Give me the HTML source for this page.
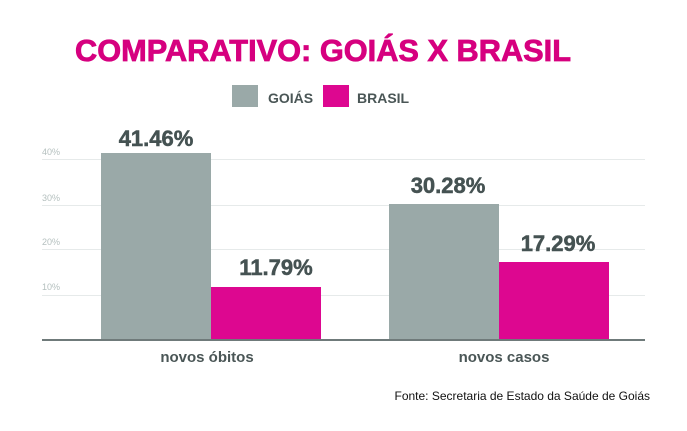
<!DOCTYPE html>
<html><head><meta charset="utf-8"><style>
body{margin:0;width:687px;height:426px;background:#fff;overflow:hidden;font-family:"Liberation Sans",sans-serif}
</style></head><body>
<svg width="687" height="426" xmlns="http://www.w3.org/2000/svg" font-family="Liberation Sans, sans-serif">
<text x="323" y="61" text-anchor="middle" font-size="31" font-weight="bold" fill="#d6007f" stroke="#d6007f" stroke-width="0.8" textLength="496" lengthAdjust="spacingAndGlyphs">COMPARATIVO: GOIÁS X BRASIL</text>
<rect x="232" y="85" width="26" height="22" fill="#9aa9a8"/>
<text x="268" y="103" font-size="14" font-weight="bold" fill="#4a5656">GOIÁS</text>
<rect x="323" y="85" width="26" height="22" fill="#dd0790"/>
<text x="357" y="103" font-size="14" font-weight="bold" fill="#4a5656">BRASIL</text>
<g stroke="#e6eaea" stroke-width="1">
<line x1="42" y1="159.5" x2="645" y2="159.5"/><line x1="42" y1="205.5" x2="645" y2="205.5"/>
<line x1="42" y1="249.5" x2="645" y2="249.5"/><line x1="42" y1="295.5" x2="645" y2="295.5"/>
</g>
<g font-size="9" fill="#b5c0bf">
<text x="42" y="155">40%</text><text x="42" y="201">30%</text><text x="42" y="245">20%</text><text x="42" y="290">10%</text>
</g>
<rect x="101" y="153" width="110" height="187" fill="#9aa9a8"/>
<rect x="211" y="287" width="110" height="53" fill="#dd0790"/>
<rect x="389" y="204" width="110" height="136" fill="#9aa9a8"/>
<rect x="499" y="262" width="110" height="78" fill="#dd0790"/>
<line x1="42" y1="340" x2="645" y2="340" stroke="#6f7a7a" stroke-width="2"/>
<g font-size="22" font-weight="bold" fill="#455252" stroke="#455252" stroke-width="0.5" text-anchor="middle">
<text x="156" y="146">41.46%</text><text x="276" y="275">11.79%</text>
<text x="448" y="193">30.28%</text><text x="558" y="251">17.29%</text>
</g>
<g font-size="15" font-weight="bold" fill="#4a5656" text-anchor="middle">
<text x="207" y="362">novos óbitos</text><text x="504" y="362">novos casos</text>
</g>
<text x="650" y="400" text-anchor="end" font-size="12" fill="#111">Fonte: Secretaria de Estado da Saúde de Goiás</text>
</svg>
</body></html>
